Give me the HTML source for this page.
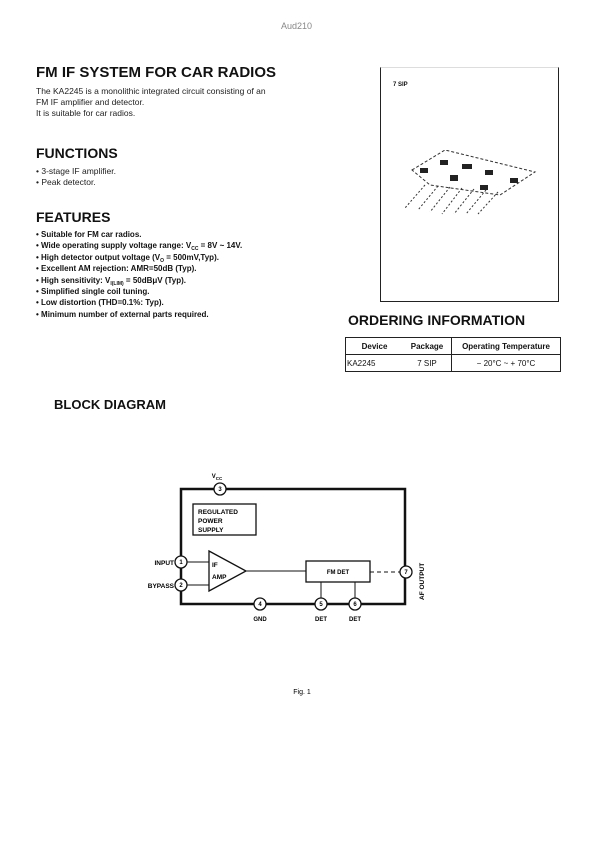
<!DOCTYPE html>
<html><head><style>
body{margin:0;background:#fff;}
.p{position:relative;width:600px;height:849px;font-family:"Liberation Sans",sans-serif;color:#111;overflow:hidden}
.a{position:absolute;white-space:nowrap}
.t{font-size:8.5px;line-height:11px;color:#222}
.f{font-size:8px;line-height:11.4px;font-weight:bold}
.s{font-size:5px;position:relative;top:2px;line-height:0}
</style></head><body><div class="p">
<div class="a" style="left:281px;top:21px;font-size:9px;color:#888">Aud210</div>
<div class="a" style="left:36px;top:64px;font-size:15px;font-weight:bold">FM IF SYSTEM FOR CAR RADIOS</div>
<div class="a t" style="left:36px;top:86px">The KA2245 is a monolithic integrated circuit consisting of an<br>FM IF amplifier and detector.<br>It is suitable for car radios.</div>
<div class="a" style="left:36px;top:145px;font-size:14px;font-weight:bold">FUNCTIONS</div>
<div class="a t" style="left:36px;top:166px">• 3-stage IF amplifier.<br>• Peak detector.</div>
<div class="a" style="left:36px;top:209px;font-size:14px;font-weight:bold">FEATURES</div>
<div class="a f" style="left:36px;top:229px">• Suitable for FM car radios.<br>• Wide operating supply voltage range: V<span class="s">CC</span> = 8V ~ 14V.<br>• High detector output voltage (V<span class="s">O</span> = 500mV,Typ).<br>• Excellent AM rejection: AMR=50dB (Typ).<br>• High sensitivity: V<span class="s">I(LIM)</span> = 50dBμV (Typ).<br>• Simplified single coil tuning.<br>• Low distortion (THD=0.1%: Typ).<br>• Minimum number of external parts required.</div>
<div class="a" style="left:380px;top:67px;width:177px;height:233px;border-left:1px solid #222;border-right:1px solid #222;border-bottom:1px solid #222;border-top:1px solid #ddd"></div>
<div class="a" style="left:393px;top:82px;font-size:6px;font-weight:bold">7 SIP</div>
<svg class="a" style="left:400px;top:150px" width="150" height="65"><polygon points="12,20 45,0 135,22 100,45 30,35" fill="none" stroke="#333" stroke-dasharray="3 2"/><g fill="#222"><rect x="20" y="18" width="8" height="5"/><rect x="40" y="10" width="8" height="5"/><rect x="62" y="14" width="10" height="5"/><rect x="85" y="20" width="8" height="5"/><rect x="50" y="25" width="8" height="6"/><rect x="80" y="35" width="8" height="5"/><rect x="110" y="28" width="8" height="5"/></g><g stroke="#333" stroke-dasharray="2 2"><line x1="25" y1="35" x2="5" y2="58"/><line x1="38" y1="36" x2="18" y2="60"/><line x1="50" y1="37" x2="30" y2="62"/><line x1="62" y1="38" x2="42" y2="64"/><line x1="74" y1="39" x2="54" y2="64"/><line x1="86" y1="40" x2="66" y2="64"/><line x1="98" y1="42" x2="78" y2="64"/></g></svg>
<div class="a" style="left:348px;top:312px;font-size:14px;font-weight:bold">ORDERING INFORMATION</div>
<table class="a" style="left:345px;top:337px;border-collapse:collapse;font-size:8px;width:216px">
<tr style="height:17px;font-weight:bold"><td style="border:1px solid #222;border-right:none;text-align:center;width:55px">Device</td><td style="border:1px solid #222;border-left:none;text-align:center;width:46px">Package</td><td style="border:1px solid #222;text-align:center">Operating Temperature</td></tr>
<tr style="height:17px"><td style="border:1px solid #222;border-right:none">KA2245</td><td style="border:1px solid #222;border-left:none;text-align:center">7 SIP</td><td style="border:1px solid #222;text-align:center">− 20°C ~ + 70°C</td></tr></table>
<div class="a" style="left:54px;top:397px;font-size:13px;font-weight:bold">BLOCK DIAGRAM</div>
<svg class="a" style="left:0;top:0" width="600" height="849" font-family="Liberation Sans" font-size="6.5" font-weight="bold">
<g stroke="#111" fill="none"><path d="M181,489 H405 V604 H181 Z" stroke-width="2.5"/>
<rect x="193" y="504" width="63" height="31" stroke-width="1.3"/>
<polygon points="209,551 246,571 209,591" stroke-width="1.3"/>
<rect x="306" y="561" width="64" height="21" stroke-width="1.3"/>
<line x1="187" y1="562" x2="209" y2="562"/><line x1="187" y1="585" x2="209" y2="585"/>
<line x1="246" y1="571" x2="306" y2="571"/><line x1="370" y1="572" x2="400" y2="572" stroke-dasharray="4 3"/>
<line x1="321" y1="582" x2="321" y2="598"/><line x1="355" y1="582" x2="355" y2="598"/></g>
<g fill="#fff" stroke="#111" stroke-width="1.3"><circle cx="181" cy="562" r="6"/><circle cx="181" cy="585" r="6"/><circle cx="220" cy="489" r="6"/><circle cx="260" cy="604" r="6"/><circle cx="321" cy="604" r="6"/><circle cx="355" cy="604" r="6"/><circle cx="406" cy="572" r="6"/></g>
<g text-anchor="middle" font-size="6"><text x="181" y="564">1</text><text x="181" y="587">2</text><text x="220" y="491">3</text><text x="260" y="606">4</text><text x="321" y="606">5</text><text x="355" y="606">6</text><text x="406" y="574">7</text>
<text x="217" y="478">V<tspan font-size="4.5" dy="2">CC</tspan></text>
<text x="260" y="621">GND</text><text x="321" y="621">DET</text><text x="355" y="621">DET</text><text x="338" y="574">FM DET</text></g>
<text x="198" y="514">REGULATED</text><text x="198" y="523">POWER</text><text x="198" y="532">SUPPLY</text>
<text x="212" y="567">IF</text><text x="212" y="579">AMP</text>
<text x="174" y="565" text-anchor="end">INPUT</text><text x="174" y="588" text-anchor="end">BYPASS</text>
<text transform="translate(424,600) rotate(-90)">AF OUTPUT</text>
<text x="302" y="694" font-weight="normal" font-size="7" text-anchor="middle">Fig. 1</text>
</svg>
</div></body></html>
